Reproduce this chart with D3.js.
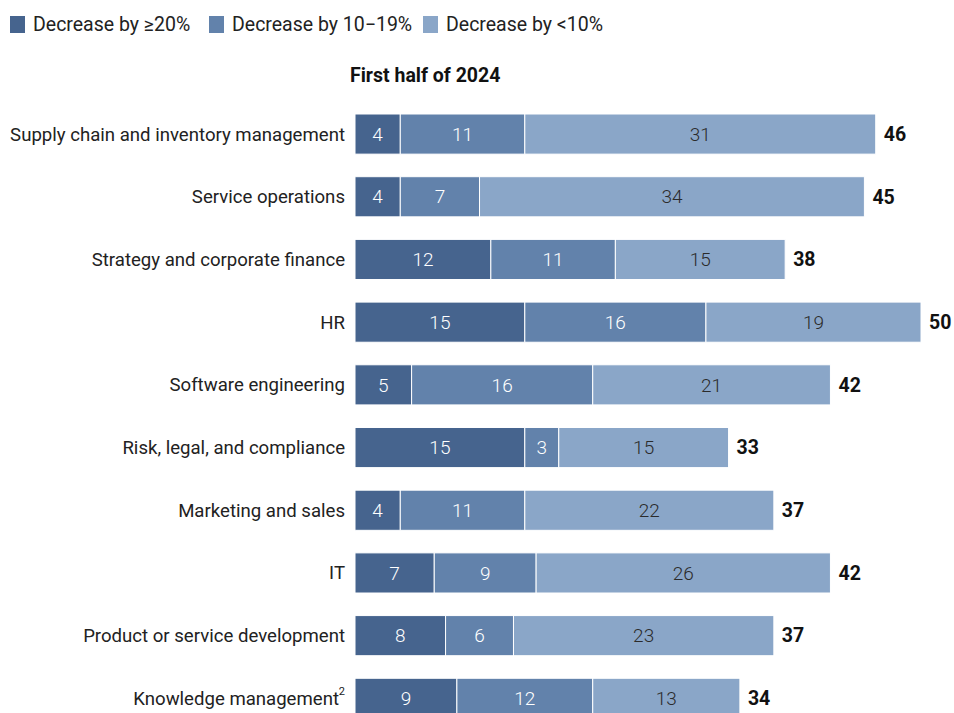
<!DOCTYPE html>
<html>
<head>
<meta charset="utf-8">
<script src="https://cdn.jsdelivr.net/npm/d3@7"></script>
<style>
  html, body { margin: 0; padding: 0; background: #fff; }
  svg { display: block; font-family: Roboto, "Liberation Sans", sans-serif; }
</style>
</head>
<body>
<svg id="chart" width="954" height="713"></svg>
<script>
// Functions in the first half of 2024 and the share reporting cost decreases
const categories = [
  "Supply chain and inventory management",
  "Service operations",
  "Strategy and corporate finance",
  "HR",
  "Software engineering",
  "Risk, legal, and compliance",
  "Marketing and sales",
  "IT",
  "Product or service development",
  "Knowledge management"
];
const footnotes = ["", "", "", "", "", "", "", "", "", "2"];

const seriesNames = ["Decrease by ≥20%", "Decrease by 10−19%", "Decrease by <10%"];
const decrease20 = [4, 4, 12, 15, 5, 15, 4, 7, 8, 9];
const decrease10to19 = [11, 7, 11, 16, 16, 3, 11, 9, 6, 12];
const decreaseUnder10 = [31, 34, 15, 19, 21, 15, 22, 26, 23, 13];
const totals = [46, 45, 38, 50, 42, 33, 37, 42, 37, 34];

const title = "First half of 2024";

const colors = ["#46648e", "#6282ab", "#8aa6c8"];
const labelColors = ["#ffffff", "#ffffff", "#2b2b2b"];

const svg = d3.select("#chart");

const rows = categories.map((c, i) => ({
  name: c,
  note: footnotes[i],
  values: [decrease20[i], decrease10to19[i], decreaseUnder10[i]],
  total: totals[i]
}));

const stack = d3.stack().keys([0, 1, 2]).value((d, k) => d.values[k]);
const layers = stack(rows);

const x = d3.scaleLinear().domain([0, 50]).range([355, 921]);
const y = d3.scaleBand()
  .domain(categories)
  .range([114, 718.4])
  .paddingInner(0.36)
  .paddingOuter(0);

// Legend
const legend = svg.append("g").attr("class", "legend");
const legendX = [10, 209, 423];
seriesNames.forEach((name, i) => {
  const g = legend.append("g").attr("transform", `translate(${legendX[i]},0)`);
  g.append("rect").attr("x", 0).attr("y", 16).attr("width", 15).attr("height", 17).attr("fill", colors[i]);
  g.append("text").attr("x", 23).attr("y", 31)
    .attr("font-size", 19.5).attr("fill", "#222").text(name);
});

// Column title
svg.append("text")
  .attr("x", x(0) - 5).attr("y", 82)
  .attr("font-size", 19.5).attr("font-weight", 700).attr("fill", "#111")
  .text(title);

// Category labels
const labels = svg.append("g").attr("class", "labels");
rows.forEach(r => {
  labels.append("text")
    .attr("x", x(0) - 10 - (r.note ? 6 : 0))
    .attr("y", y(r.name) + y.bandwidth() / 2)
    .attr("dy", "0.35em")
    .attr("text-anchor", "end")
    .attr("font-size", 18.6)
    .attr("fill", "#222")
    .text(r.name);
  if (r.note) {
    labels.append("text")
      .attr("x", x(0) - 10)
      .attr("y", y(r.name) + y.bandwidth() / 2 - 3)
      .attr("text-anchor", "end")
      .attr("font-size", 11)
      .attr("fill", "#222")
      .text(r.note);
  }
});

// Stacked segments
const segs = svg.append("g").attr("class", "bars");
layers.forEach((layer, k) => {
  const g = segs.append("g");
  g.selectAll("rect").data(layer).join("rect")
    .attr("x", d => x(d[0]))
    .attr("y", d => y(d.data.name))
    .attr("width", d => x(d[1]) - x(d[0]))
    .attr("height", y.bandwidth())
    .attr("fill", colors[k])
    .attr("stroke", "#ffffff")
    .attr("stroke-width", 1);
  g.selectAll("text").data(layer).join("text")
    .attr("x", d => (x(d[0]) + x(d[1])) / 2)
    .attr("y", d => y(d.data.name) + y.bandwidth() / 2)
    .attr("dy", "0.35em")
    .attr("text-anchor", "middle")
    .attr("font-size", 19)
    .attr("font-weight", 300)
    .attr("fill", labelColors[k])
    .text(d => d.data.values[k]);
});

// Totals
svg.append("g").selectAll("text").data(rows).join("text")
  .attr("x", d => x(d.total) + 8)
  .attr("y", d => y(d.name) + y.bandwidth() / 2)
  .attr("dy", "0.35em")
  .attr("font-size", 19.5)
  .attr("font-weight", 700)
  .attr("fill", "#111")
  .text(d => d.total);
</script>
</body>
</html>
